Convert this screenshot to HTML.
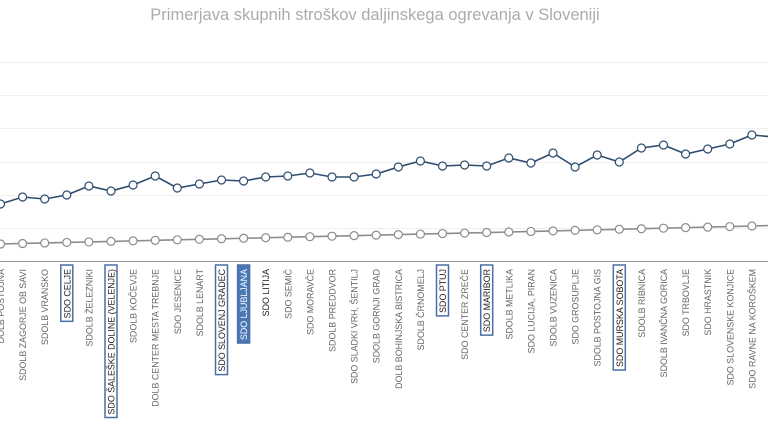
<!DOCTYPE html>
<html><head><meta charset="utf-8"><style>
html,body{margin:0;padding:0;background:#fff;width:768px;height:432px;overflow:hidden}
svg{display:block}
text{font-family:"Liberation Sans",sans-serif}
</style></head><body>
<svg id="s" width="768" height="432" viewBox="0 0 768 432" xmlns="http://www.w3.org/2000/svg">
<text x="375" y="20" text-anchor="middle" font-size="16.5" fill="#ababab">Primerjava skupnih stroškov daljinskega ogrevanja v Sloveniji</text>
<g stroke="#efefef" stroke-width="1">
<line x1="0" y1="62.5" x2="768" y2="62.5"/><line x1="0" y1="95.5" x2="768" y2="95.5"/><line x1="0" y1="128.5" x2="768" y2="128.5"/><line x1="0" y1="162.5" x2="768" y2="162.5"/><line x1="0" y1="195.5" x2="768" y2="195.5"/><line x1="0" y1="228.5" x2="768" y2="228.5"/>
</g>
<line x1="0" y1="261.5" x2="768" y2="261.5" stroke="#999" stroke-width="1"/>
<g id="g"></g>
</svg>
<script>
var labels=["DOLB POSTOJNA","SDOLB ZAGORJE OB SAVI","SDOLB VRANSKO","SDO CELJE","SDOLB ŽELEZNIKI","SDO ŠALEŠKE DOLINE (VELENJE)","SDOLB KOČEVJE","DOLB CENTER MESTA TREBNJE","SDO JESENICE","SDOLB LENART","SDO SLOVENJ GRADEC","SDO LJUBLJANA","SDO LITIJA","SDO SEMIČ","SDO MORAVČE","SDOLB PREDDVOR","SDO SLADKI VRH, ŠENTILJ","SDOLB GORNJI GRAD","DOLB BOHINJSKA BISTRICA","SDOLB ČRNOMELJ","SDO PTUJ","SDO CENTER ZREČE","SDO MARIBOR","SDOLB METLIKA","SDO LUCIJA, PIRAN","SDOLB VUZENICA","SDO GROSUPLJE","SDOLB POSTOJNA GIS","SDO MURSKA SOBOTA","SDOLB RIBNICA","SDOLB IVANČNA GORICA","SDO TRBOVLJE","SDO HRASTNIK","SDO SLOVENSKE KONJICE","SDO RAVNE NA KOROŠKEM"];
var boxed={3:1,5:1,10:1,20:1,22:1,28:1};
var blue=[204,197,199,195,186,191,185,176,188,184,180,181,177,176,173,177,177,174,167,161,166,165,166,158,163,153,167,155,162,148,145,154,149,144,135,137];
var g=document.getElementById('g'),NS="http://www.w3.org/2000/svg";
function X(i){return 0.5+i*22.1;}
var gray=[];for(var i=0;i<36;i++){gray.push(i<=23?244-12*i/23:232-(i-23)*6/11);}
function el(n,a){var e=document.createElementNS(NS,n);for(var k in a)e.setAttribute(k,a[k]);g.appendChild(e);return e;}
function series(d,col){var p=d.map(function(v,i){return X(i)+","+v}).join(" ");
el("polyline",{points:p,fill:"none",stroke:col,"stroke-width":1.6});
d.forEach(function(v,i){if(i<35)el("circle",{cx:X(i),cy:v,r:4,fill:"#fff",stroke:col,"stroke-width":1.2});});}
series(gray,"#8c8c8c");series(blue,"#2e4d6e");
labels.forEach(function(l,i){var x=X(i);
var t=el("text",{transform:"translate("+(x+3.5)+",269) rotate(-90)","text-anchor":"end","font-size":"8.9",fill:i==11?"#fff":(boxed[i]||i==12?"#222":"#666")});t.textContent=l;
var w=t.getComputedTextLength();
if(boxed[i]||i==11){var r=el("rect",{x:x-6,y:265,width:12,height:w+7,fill:i==11?"#4a78b5":"none",stroke:"#4a6fa5","stroke-width":1.5});g.insertBefore(r,t);}
});
</script>
</body></html>
